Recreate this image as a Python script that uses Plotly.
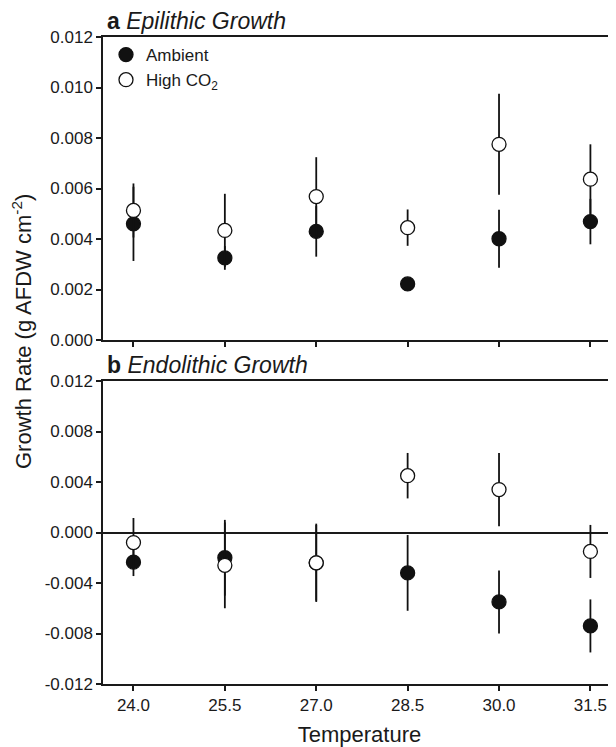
import plotly.graph_objects as go

temperatures = [24.0, 25.5, 27.0, 28.5, 30.0, 31.5]
x_tick_labels = ["24.0", "25.5", "27.0", "28.5", "30.0", "31.5"]

epi_ambient = [0.00460, 0.00325, 0.00430, 0.00222, 0.00401, 0.00469]
epi_ambient_err = [0.00147, 0.00047, 0.00100, 0.00020, 0.00115, 0.00090]
epi_high = [0.00513, 0.00434, 0.00568, 0.00445, 0.00775, 0.00637]
epi_high_err = [0.00107, 0.00145, 0.00156, 0.00072, 0.00200, 0.00138]

endo_ambient = [-0.00235, -0.00200, -0.00240, -0.00320, -0.00550, -0.00740]
endo_ambient_err = [0.00110, 0.00300, 0.00300, 0.00300, 0.00250, 0.00210]
endo_high = [-0.00080, -0.00260, -0.00240, 0.00450, 0.00340, -0.00150]
endo_high_err = [0.00195, 0.00340, 0.00310, 0.00180, 0.00290, 0.00210]

top_y_ticks = [0.000, 0.002, 0.004, 0.006, 0.008, 0.010, 0.012]
top_y_labels = ["0.000", "0.002", "0.004", "0.006", "0.008", "0.010", "0.012"]
bot_y_ticks = [-0.012, -0.008, -0.004, 0.000, 0.004, 0.008, 0.012]
bot_y_labels = ["-0.012", "-0.008", "-0.004", "0.000", "0.004", "0.008", "0.012"]

FONT = "Liberation Sans, Arial, sans-serif"
INK = "#1a1a1a"

fig = go.Figure()

def add(x, y, err, filled, name, xa, ya, show):
    fig.add_trace(go.Scatter(
        x=x, y=y, mode="markers", name=name, showlegend=show,
        xaxis=xa, yaxis=ya,
        marker=dict(size=14, symbol="circle",
                    color="#111111" if filled else "white",
                    line=dict(color="#111111", width=1.3)),
        error_y=dict(type="data", array=err, visible=True, color="#111111",
                     thickness=1.8, width=0),
    ))

add(temperatures, epi_ambient, epi_ambient_err, True, "Ambient", "x", "y", True)
add(temperatures, epi_high, epi_high_err, False, "High CO<sub>2</sub>", "x", "y", True)
add(temperatures, endo_ambient, endo_ambient_err, True, "Ambient", "x2", "y2", False)
add(temperatures, endo_high, endo_high_err, False, "High CO<sub>2</sub>", "x2", "y2", False)

# page body has an 8px margin, so the figure is placed at (8, 8) in the window
OFF = 8
W, H = 616 - OFF, 747 - OFF
L, R, T = 103 - OFF, 0, 37 - OFF
B = H - (684 - OFF)
ph = H - T - B
pw = W - L - R
top_dom = [(684 - 340) / ph, 1.0]
bot_dom = [0.0, (684 - 381) / ph]

xcommon = dict(range=[23.5, 31.92], tickvals=temperatures, ticktext=x_tick_labels,
               showline=True, linecolor=INK, linewidth=1.5, mirror=True,
               ticks="outside", ticklen=5, tickwidth=1.5, tickcolor=INK,
               showgrid=False, zeroline=False,
               tickfont=dict(family=FONT, size=17, color=INK))
ycommon = dict(showline=True, linecolor=INK, linewidth=1.5, mirror=False,
               ticks="outside", ticklen=5, tickwidth=1.5, tickcolor=INK,
               showgrid=False, tickfont=dict(family=FONT, size=17, color=INK))

fig.update_layout(
    width=W, height=H,
    margin=dict(l=L, r=R, t=T, b=B),
    paper_bgcolor="white", plot_bgcolor="white",
    font=dict(family=FONT, color=INK),
    xaxis=dict(**xcommon, domain=[0, 1], anchor="y", showticklabels=False),
    yaxis=dict(**ycommon, domain=top_dom, anchor="x", range=[0, 0.012],
               tickvals=top_y_ticks, ticktext=top_y_labels, zeroline=False),
    xaxis2=dict(**xcommon, domain=[0, 1], anchor="y2", showticklabels=True,
                title=dict(text="Temperature", font=dict(family=FONT, size=22, color=INK),
                           standoff=13)),
    yaxis2=dict(**ycommon, domain=bot_dom, anchor="x2", range=[-0.012, 0.012],
                tickvals=bot_y_ticks, ticktext=bot_y_labels,
                zeroline=True, zerolinecolor=INK, zerolinewidth=1.5),
    showlegend=True,
    legend=dict(x=3 / pw, y=1.0, xanchor="left", yanchor="top", xref="paper", yref="paper",
                bgcolor="rgba(0,0,0,0)", font=dict(family=FONT, size=17, color=INK),
                itemwidth=30, tracegroupgap=0),
    annotations=[
        dict(text="<b>a</b> <i>Epilithic Growth</i>", x=0, y=1, xref="paper", yref="paper",
             xanchor="left", yanchor="middle", xshift=2, yshift=16, showarrow=False,
             font=dict(family=FONT, size=23, color=INK)),
        dict(text="<b>b</b> <i>Endolithic Growth</i>", x=0, y=bot_dom[1], xref="paper", yref="paper",
             xanchor="left", yanchor="middle", xshift=2, yshift=16, showarrow=False,
             font=dict(family=FONT, size=23, color=INK)),
        dict(text="Growth Rate (g AFDW cm<sup>-2</sup>)", x=0, y=(684 - 332) / ph,
             xref="paper", yref="paper", xanchor="center", yanchor="middle",
             xshift=(22 - OFF) - L, textangle=-90, showarrow=False,
             font=dict(family=FONT, size=22, color=INK)),
    ],
)

fig.write_html("out.html")
